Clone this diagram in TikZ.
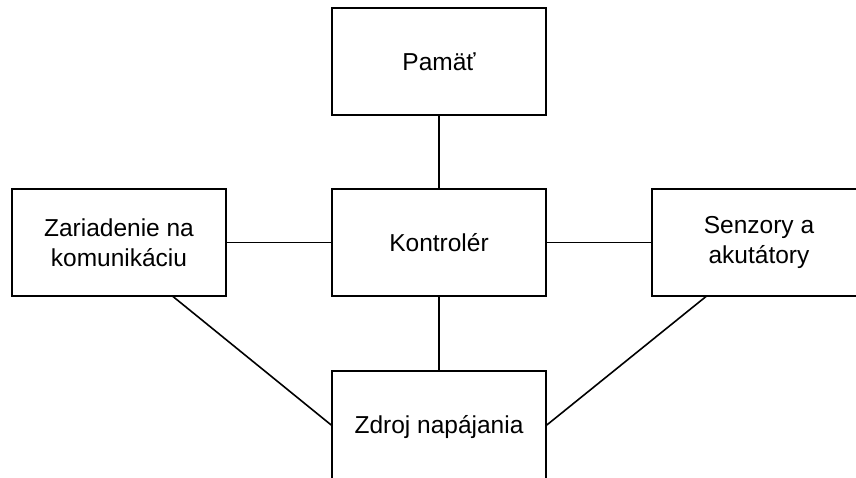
\documentclass[tikz,border=0pt]{standalone}
\usepackage{fontspec}
\setmainfont{Liberation Sans}
\begin{document}
\begin{tikzpicture}[x=1pt,y=-1pt,
  box/.style={draw=black,line width=1.6pt,fill=white,minimum width=214pt,minimum height=107pt,inner sep=0pt,align=center,font=\fontsize{24.5}{30}\selectfont},
  link/.style={draw=black,line width=1.6pt}]
\useasboundingbox (0,0) rectangle (856,477);
\clip (0,0) rectangle (856,477);
\node[box] (mem) at (439,61.5) {Pamäť};
\node[box] (ctl) at (439,242.5) {Kontrolér};
\node[box] (com) at (119,242.5) {Zariadenie na\\komunikáciu};
\node[box] (sen) at (759,242.5) {Senzory a\\akutátory};
\node[box,minimum height=112pt] (pwr) at (439,427) {Zdroj napájania};
\coordinate (cl) at (173,296.5);
\coordinate (cr) at (706,296.5);
\draw[link] (mem.south) -- (ctl.north);
\draw[link] (ctl.south) -- (pwr.north);
\draw[link] (com.east) -- (ctl.west);
\draw[link] (ctl.east) -- (sen.west);
\draw[link] (cl) -- (pwr.west |- 0,425);
\draw[link] (cr) -- (pwr.east |- 0,425);
\end{tikzpicture}
\end{document}
